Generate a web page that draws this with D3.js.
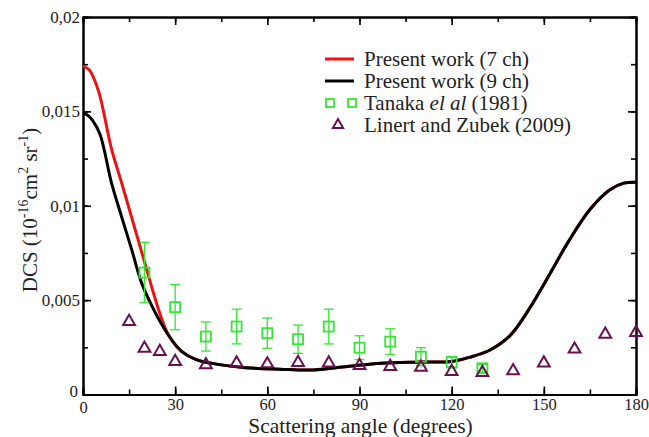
<!DOCTYPE html>
<html lang="en">
<head>
<meta charset="utf-8">
<title>DCS</title>
<script src="https://cdn.jsdelivr.net/npm/d3@7"></script>
<style>
  body { margin: 0; background: #fff; }
  text { font-family: "Liberation Serif", "DejaVu Serif", serif; fill: #222; }
</style>
</head>
<body>
<script>
// theory curves (angle in degrees, DCS in 1e-16 cm^2 sr^-1)
var angRed   = [0, 2, 5, 9.3, 12.6, 15.8, 19, 22, 25, 28, 32, 37, 45, 53, 64, 75, 86, 97, 110, 120, 126, 132.5, 139, 145.5, 152, 158, 165, 171.5, 176, 180];
var dcsRed   = [0.0174, 0.0172, 0.0161, 0.0130, 0.0112, 0.0094, 0.0076, 0.0059, 0.0043, 0.0031, 0.0023, 0.00185, 0.00157, 0.00142, 0.00134, 0.0013, 0.00148, 0.00166, 0.00172, 0.00175, 0.00198, 0.00236, 0.00312, 0.0046, 0.0064, 0.0081, 0.0098, 0.01085, 0.0112, 0.01125];
var angBlack = [0, 1.5, 3, 5.5, 9.3, 12.6, 15.8, 19.1, 22.4, 25, 28, 32, 37, 45, 53, 64, 75, 86, 97, 110, 120, 126, 132.5, 139, 145.5, 152, 158, 165, 171.5, 176, 180];
var dcsBlack = [0.0149, 0.0148, 0.01455, 0.0138, 0.0112, 0.0094, 0.0077, 0.0059, 0.0047, 0.0039, 0.0031, 0.0023, 0.00183, 0.00157, 0.00142, 0.00134, 0.0013, 0.00148, 0.00166, 0.00172, 0.00175, 0.00198, 0.00236, 0.00312, 0.0046, 0.0064, 0.0081, 0.0098, 0.01085, 0.0112, 0.01125];

// Tanaka et al (1981)
var angTanaka = [20, 30, 40, 50, 60, 70, 80, 90, 100, 110, 120, 130];
var dcsTanaka = [0.00646, 0.00463, 0.00307, 0.0036, 0.00325, 0.00293, 0.0036, 0.00248, 0.0028, 0.002, 0.00171, 0.00139];
var errTanaka = [0.0016, 0.0012, 0.00077, 0.00092, 0.0008, 0.00075, 0.00092, 0.00063, 0.00068, 0.00048, 0.0003, 0.0002];

// Linert and Zubek (2009)
var angLinert = [15, 20, 25, 30, 40, 50, 60, 70, 80, 90, 100, 110, 120, 130, 140, 150, 160, 170, 180];
var dcsLinert = [0.00386, 0.00245, 0.00227, 0.00174, 0.00157, 0.00166, 0.00162, 0.00169, 0.00166, 0.00153, 0.00148, 0.00144, 0.00121, 0.00116, 0.00125, 0.00166, 0.0024, 0.00319, 0.00328];

var xTicks = [0, 30, 60, 90, 120, 150, 180];
var yTicks = [0, 0.005, 0.01, 0.015, 0.02];
var yTickLabels = ["0", "0,005", "0,01", "0,015", "0,02"];

var legendNames = ["Present work (7 ch)", "Present work (9 ch)", "Tanaka", "Linert and Zubek (2009)"];

var width = 649, height = 437;
// note: "top" is a reserved window global, so use m* names
var mLeft = 83, mRight = 636, mTop = 17, mBottom = 394.5;

var svg = d3.select("body").append("svg")
            .attr("width", width)
            .attr("height", height);

var x = d3.scaleLinear().domain([0, 180]).range([mLeft, mRight]);
var y = d3.scaleLinear().domain([0, 0.02]).range([mBottom, mTop]);

var minorX = d3.range(0, 181, 15);
var minorY = d3.range(0, 0.0201, 0.0025);

// axes: ticks point inward, like grace
function drawAxis(axis, tx, ty) {
  var g = svg.append("g").attr("transform", "translate(" + tx + "," + ty + ")").call(axis);
  g.selectAll("path").attr("stroke", "#000").attr("stroke-width", 2);
  g.selectAll("line").attr("stroke", "#000").attr("stroke-width", 1.6);
  return g;
}

// minor ticks
drawAxis(d3.axisBottom(x).tickValues(minorX).tickSize(-5).tickFormat(""), 0, mBottom);
drawAxis(d3.axisTop(x).tickValues(minorX).tickSize(-5).tickFormat(""), 0, mTop);
drawAxis(d3.axisLeft(y).tickValues(minorY).tickSize(-5).tickFormat(""), mLeft, 0);
drawAxis(d3.axisRight(y).tickValues(minorY).tickSize(-5).tickFormat(""), mRight, 0);

// major ticks
var gx = drawAxis(d3.axisBottom(x).tickValues(xTicks).tickSizeInner(-8).tickSizeOuter(0).tickPadding(4), 0, mBottom);
gx.selectAll("text").attr("font-size", 16.5).attr("fill", "#222");
gx.selectAll(".tick text").filter(function(d){ return d === 0; }).attr("dy", "0.85em");
drawAxis(d3.axisTop(x).tickValues(xTicks).tickSizeInner(-8).tickSizeOuter(0).tickFormat(""), 0, mTop);
var gy = drawAxis(d3.axisLeft(y).tickValues(yTicks).tickSizeInner(-8).tickSizeOuter(0).tickPadding(3)
                  .tickFormat(function(d, i){ return yTickLabels[i]; }), mLeft, 0);
gy.selectAll("text").attr("font-size", 17).attr("fill", "#222");
gy.selectAll(".tick text").filter(function(d){ return d === 0; }).attr("dy", "0.1em").attr("x", -5);
drawAxis(d3.axisRight(y).tickValues(yTicks).tickSizeInner(-8).tickSizeOuter(0).tickFormat(""), mRight, 0);

// axis titles
svg.append("text")
   .attr("x", (mLeft + mRight) / 2 + 1)
   .attr("y", 433)
   .attr("text-anchor", "middle")
   .attr("font-size", 21.5)
   .text("Scattering angle (degrees)");

var yt = svg.append("text")
   .attr("transform", "translate(37," + 210 + ") rotate(-90)")
   .attr("text-anchor", "middle")
   .attr("font-size", 21);
yt.append("tspan").text("DCS (10");
yt.append("tspan").attr("dy", -9).attr("font-size", 14).text("-16");
yt.append("tspan").attr("dy", 9).text("cm");
yt.append("tspan").attr("dy", -9).attr("font-size", 14).text("2");
yt.append("tspan").attr("dy", 9).text(" sr");
yt.append("tspan").attr("dy", -9).attr("font-size", 14).text("-1");
yt.append("tspan").attr("dy", 9).text(")");

// theory lines
var line = d3.line()
  .x(function(d){ return x(d[0]); })
  .y(function(d){ return y(d[1]); })
  .curve(d3.curveCatmullRom.alpha(0.5));

svg.append("path")
   .datum(d3.zip(angRed, dcsRed))
   .attr("d", line)
   .attr("fill", "none")
   .attr("stroke", "#ee1111")
   .attr("stroke-width", 3);

svg.append("path")
   .datum(d3.zip(angBlack, dcsBlack))
   .attr("d", line)
   .attr("fill", "none")
   .attr("stroke", "#000")
   .attr("stroke-width", 3);

// Tanaka with error bars
var green = "#33e633";
var tanaka = svg.append("g").selectAll("g")
  .data(d3.zip(angTanaka, dcsTanaka, errTanaka))
  .enter().append("g");

tanaka.append("line")
  .attr("x1", function(d){ return x(d[0]); })
  .attr("x2", function(d){ return x(d[0]); })
  .attr("y1", function(d){ return y(d[1] - d[2]); })
  .attr("y2", function(d){ return y(d[1] + d[2]); })
  .attr("stroke", green).attr("stroke-width", 1.3);
[-1, 1].forEach(function(s){
  tanaka.append("line")
    .attr("x1", function(d){ return x(d[0]) - 5; })
    .attr("x2", function(d){ return x(d[0]) + 5; })
    .attr("y1", function(d){ return y(d[1] + s * d[2]); })
    .attr("y2", function(d){ return y(d[1] + s * d[2]); })
    .attr("stroke", green).attr("stroke-width", 1.3);
});
tanaka.append("rect")
  .attr("x", function(d){ return x(d[0]) - 5; })
  .attr("y", function(d){ return y(d[1]) - 5; })
  .attr("width", 10).attr("height", 10)
  .attr("fill", "none")
  .attr("stroke", green).attr("stroke-width", 1.8);

// Linert triangles
var purple = "#6a1050";
var tri = d3.symbol().type(d3.symbolTriangle).size(60);
svg.append("g").selectAll("path")
  .data(d3.zip(angLinert, dcsLinert))
  .enter().append("path")
  .attr("d", tri)
  .attr("transform", function(d){ return "translate(" + x(d[0]) + "," + y(d[1]) + ")"; })
  .attr("fill", "none")
  .attr("stroke", purple)
  .attr("stroke-width", 2);

// legend
var lg = svg.append("g").attr("font-size", 21);
var rows = [59, 81, 103, 125];
lg.append("line").attr("x1", 325).attr("x2", 354).attr("y1", rows[0]).attr("y2", rows[0])
  .attr("stroke", "#ee1111").attr("stroke-width", 3);
lg.append("line").attr("x1", 325).attr("x2", 354).attr("y1", rows[1]).attr("y2", rows[1])
  .attr("stroke", "#000").attr("stroke-width", 3);
[330, 352].forEach(function(cx){
  lg.append("rect").attr("x", cx - 4).attr("y", rows[2] - 4).attr("width", 8).attr("height", 8)
    .attr("fill", "none").attr("stroke", green).attr("stroke-width", 1.8);
});
lg.append("path").attr("d", d3.symbol().type(d3.symbolTriangle).size(45))
  .attr("transform", "translate(338," + rows[3] + ")")
  .attr("fill", "none").attr("stroke", purple).attr("stroke-width", 2);

lg.append("text").attr("x", 364).attr("y", rows[0] + 7).text(legendNames[0]);
lg.append("text").attr("x", 364).attr("y", rows[1] + 7).text(legendNames[1]);
var tt = lg.append("text").attr("x", 364).attr("y", rows[2] + 7);
tt.append("tspan").text(legendNames[2] + " ");
tt.append("tspan").attr("font-style", "italic").text("el al");
tt.append("tspan").text(" (1981)");
lg.append("text").attr("x", 364).attr("y", rows[3] + 7).text(legendNames[3]);
</script>
</body>
</html>
